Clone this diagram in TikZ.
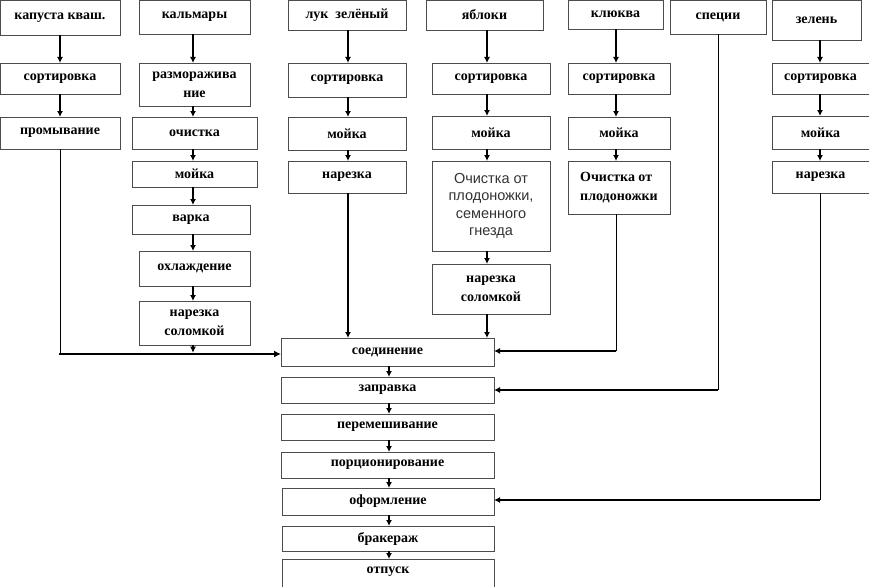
\documentclass[tikz,border=0pt]{standalone}
\usepackage{fontspec}
\setmainfont{Liberation Serif}
\newfontfamily\thinsans{Liberation Sans}
\usetikzlibrary{arrows.meta,calc}
\tikzset{
  box/.style={draw=black!70, line width=0.9pt, fill=white, inner sep=1pt, outer sep=0pt, align=center,
    font=\fontsize{14}{19}\selectfont\bfseries},
  arr/.style={draw=black, line width=1.4pt, -{Latex[length=6pt,width=6pt]}},
  thinline/.style={draw=black, line width=0.9pt},
  thickline/.style={draw=black, line width=2.6pt},
}
\begin{document}
\begin{tikzpicture}[x=1pt,y=-1pt]
\useasboundingbox (0,0) rectangle (869,586);
% column 1
\node[box, minimum width=120, minimum height=35] (kap) at (60,17.5) {капуста кваш.};
\node[box, minimum width=120, minimum height=31] (ksort) at (60,78.5) {сортировка};
\node[box, minimum width=120, minimum height=32] (kprom) at (60,133) {промывание};
% column 2
\node[box, minimum width=111, minimum height=34] (kalm) at (194.5,17) {кальмары};
\node[box, minimum width=111, minimum height=43] (razm) at (194.5,84.5) {разморажива\\ние};
\node[box, minimum width=125, minimum height=32] (ochist) at (194.5,133) {очистка};
\node[box, minimum width=125, minimum height=26] (moyka2) at (194.5,174) {мойка};
\node[box, minimum width=118, minimum height=29] (varka) at (191,219.5) {варка};
\node[box, minimum width=111, minimum height=35] (ohl) at (194.5,268.5) {охлаждение};
\node[box, minimum width=111, minimum height=44] (narez2) at (194.5,323) {нарезка\\соломкой};
% column 3
\node[box, minimum width=118, minimum height=30] (luk) at (347,15) {лук\ \ зелёный};
\node[box, minimum width=118, minimum height=34] (lsort) at (347,80) {сортировка};
\node[box, minimum width=118, minimum height=33] (lmoy) at (347,133.5) {мойка};
\node[box, minimum width=118, minimum height=32] (lnar) at (347,177) {нарезка};
% column 4
\node[box, minimum width=117, minimum height=30] (yab) at (484.5,15) {яблоки};
\node[box, minimum width=118, minimum height=31] (ysort) at (491,78.5) {сортировка};
\node[box, minimum width=118, minimum height=33] (ymoy) at (491,132.5) {мойка};
\node[box, minimum width=118, minimum height=90, text=black!80, font=\thinsans\fontsize{14.5}{17.5}\selectfont] (yoch) at (491,206) {Очистка от\\плодоножки,\\семенного\\гнезда};
\node[box, minimum width=118, minimum height=50] (ynar) at (491,289) {нарезка\\соломкой};
% column 5
\node[box, minimum width=95, minimum height=29] (klu) at (615.5,14.5) {клюква};
\node[box, minimum width=102, minimum height=31] (klsort) at (619,78.5) {сортировка};
\node[box, minimum width=102, minimum height=32] (klmoy) at (619,133) {мойка};
\node[box, minimum width=102, minimum height=53, align=left] (kloch) at (619,187.5) {Очистка от\\плодоножки};
% column 6
\node[box, minimum width=96, minimum height=34] (spec) at (718,17) {специи};
% column 7
\node[box, minimum width=89, minimum height=40] (zel) at (816.5,20) {зелень};
\node[box, minimum width=97, minimum height=31] (zsort) at (820.5,78.5) {сортировка};
\node[box, minimum width=97, minimum height=33] (zmoy) at (820.5,132.5) {мойка};
\node[box, minimum width=97, minimum height=32] (znar) at (820.5,177) {нарезка};
% center column
\node[box, minimum width=213, minimum height=28] (soed) at (387.5,352) {соединение};
\node[box, minimum width=213, minimum height=26] (zapr) at (387.5,390) {заправка};
\node[box, minimum width=213, minimum height=26] (perem) at (387.5,427) {перемешивание};
\node[box, minimum width=213, minimum height=26] (porc) at (387.5,465) {порционирование};
\node[box, minimum width=212, minimum height=27] (oform) at (388,501.5) {оформление};
\node[box, minimum width=212, minimum height=25] (brak) at (388,538.5) {бракераж};
\node[box, minimum width=212, minimum height=33, text depth=10pt] (otp) at (388,575.5) {отпуск};
% helper x coordinates
\coordinate (c1) at (60,0);
\coordinate (c2) at (193,0);
\coordinate (c3) at (348,0);
\coordinate (c4) at (487,0);
\coordinate (c5) at (616,0);
\coordinate (c6) at (718,0);
\coordinate (c7) at (820,0);
\coordinate (cc) at (389,0);
\coordinate (yline) at (0,354);
% column 1 arrows
\draw[arr] (kap.south -| c1) -- (ksort.north -| c1);
\draw[arr] (ksort.south -| c1) -- (kprom.north -| c1);
\draw[thinline] (kprom.south -| c1) -- (yline -| c1);
\draw[thickline, -{Latex[length=7pt,width=7pt]}] ($(yline -| c1)+(-1.3,0)$) -- (yline -| soed.west);
% column 2 arrows
\draw[arr] (kalm.south -| c2) -- (razm.north -| c2);
\draw[arr] (razm.south -| c2) -- (ochist.north -| c2);
\draw[arr] (ochist.south -| c2) -- (moyka2.north -| c2);
\draw[arr] (moyka2.south -| c2) -- (varka.north -| c2);
\draw[arr] (varka.south -| c2) -- (ohl.north -| c2);
\draw[arr] (ohl.south -| c2) -- (narez2.north -| c2);
\draw[arr] (narez2.south -| c2) -- ($(yline -| c2)+(0,-1.3)$);
% column 3 arrows
\draw[arr] (luk.south -| c3) -- (lsort.north -| c3);
\draw[arr] (lsort.south -| c3) -- (lmoy.north -| c3);
\draw[arr] (lmoy.south -| c3) -- (lnar.north -| c3);
\draw[arr] (lnar.south -| c3) -- (soed.north -| c3);
% column 4 arrows
\draw[arr] (yab.south -| c4) -- (ysort.north -| c4);
\draw[arr] (ysort.south -| c4) -- (ymoy.north -| c4);
\draw[arr] (ymoy.south -| c4) -- (yoch.north -| c4);
\draw[arr] (yoch.south -| c4) -- (ynar.north -| c4);
\draw[arr] (ynar.south -| c4) -- (soed.north -| c4);
% column 5 arrows
\draw[arr] (klu.south -| c5) -- (klsort.north -| c5);
\draw[arr] (klsort.south -| c5) -- (klmoy.north -| c5);
\draw[arr] (klmoy.south -| c5) -- (kloch.north -| c5);
\coordinate (k5) at (616,351);
\draw[thinline] (kloch.south -| c5) -- (k5);
\draw[arr] (k5) -- (k5 -| soed.east);
% column 6
\coordinate (k6) at (718,390);
\draw[thinline] (spec.south -| c6) -- (k6);
\draw[arr] (k6) -- (k6 -| zapr.east);
% column 7
\draw[arr] (zel.south -| c7) -- (zsort.north -| c7);
\draw[arr] (zsort.south -| c7) -- (zmoy.north -| c7);
\draw[arr] (zmoy.south -| c7) -- (znar.north -| c7);
\coordinate (k7) at (820,500);
\draw[thinline] (znar.south -| c7) -- (k7);
\draw[arr] (k7) -- (k7 -| oform.east);
% center chain
\draw[arr] (soed.south -| cc) -- (zapr.north -| cc);
\draw[arr] (zapr.south -| cc) -- (perem.north -| cc);
\draw[arr] (perem.south -| cc) -- (porc.north -| cc);
\draw[arr] (porc.south -| cc) -- (oform.north -| cc);
\draw[arr] (oform.south -| cc) -- (brak.north -| cc);
\draw[arr] (brak.south -| cc) -- (otp.north -| cc);
\end{tikzpicture}
\end{document}
